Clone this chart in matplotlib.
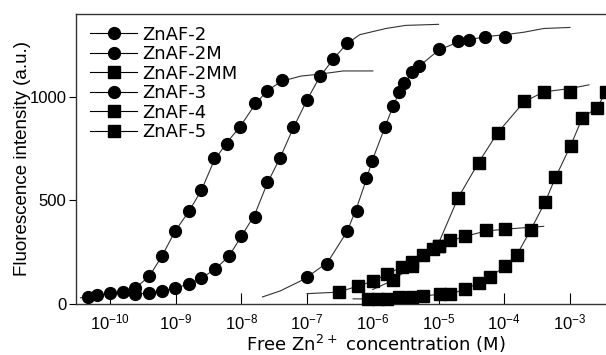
import numpy as np
import matplotlib
matplotlib.use('Agg')
import matplotlib.pyplot as plt

plt.rcParams['font.family'] = ['Liberation Sans', 'DejaVu Sans']
plt.rcParams['mathtext.default'] = 'regular'

# log10 of free Zn2+ concentration (M) and fluorescence (a.u.)
zn2_logc = [-10.34, -10.20, -10.0, -9.80, -9.62, -9.40, -9.21, -9.01, -8.80, -8.61,
            -8.42, -8.22, -8.02, -7.80, -7.61, -7.39]
zn2_f = [34, 43, 53, 58, 77, 135, 231, 351, 447, 548, 707, 774, 856, 971, 1029, 1082]
zn2_fit_logc = [-10.45, -10.34, -10.0, -9.62, -9.40, -9.21, -9.01, -8.80, -8.61, -8.42,
                -8.22, -8.02, -7.80, -7.61, -7.39, -7.10, -6.80, -6.45, -6.0]
zn2_fit_f = [30, 34, 50, 75, 135, 231, 351, 447, 548, 690, 780, 856, 960, 1029, 1075,
             1100, 1110, 1125, 1125]

zn2m_logc = [-9.62, -9.40, -9.21, -9.01, -8.80, -8.61, -8.40, -8.19, -8.00, -7.80,
             -7.61, -7.41, -7.21, -7.00, -6.81, -6.60, -6.40]
zn2m_f = [48, 53, 63, 77, 96, 125, 168, 231, 327, 418, 587, 707, 856, 986, 1101, 1183, 1260]
zn2m_fit_logc = [-9.8, -9.62, -9.40, -9.21, -9.01, -8.80, -8.61, -8.40, -8.19, -8.00,
                 -7.80, -7.61, -7.41, -7.21, -7.00, -6.81, -6.60, -6.40, -6.2, -5.8,
                 -5.5, -5.0]
zn2m_fit_f = [45, 48, 53, 63, 77, 96, 125, 168, 231, 327, 430, 580, 707, 850, 986, 1095,
              1183, 1255, 1300, 1330, 1345, 1350]

zn2mm_logc = [-6.52, -6.22, -5.99, -5.79, -5.56, -5.40, -5.23, -5.08, -4.99, -4.82,
              -4.59, -4.28, -3.99]
zn2mm_f = [58, 87, 111, 144, 178, 202, 236, 264, 279, 308, 327, 356, 361]
zn2mm_fit_logc = [-7.0, -6.6, -6.52, -6.22, -5.99, -5.79, -5.56, -5.40, -5.23, -5.08,
                  -4.99, -4.82, -4.59, -4.28, -3.99, -3.7, -3.4]
zn2mm_fit_f = [50, 56, 58, 87, 111, 144, 178, 202, 236, 264, 279, 305, 327, 352, 361,
               368, 375]

zn3_logc = [-7.0, -6.69, -6.39, -6.24, -6.10, -6.01, -5.82, -5.69, -5.60, -5.52,
            -5.40, -5.29, -5.0, -4.70, -4.53, -4.30, -3.99]
zn3_f = [130, 192, 351, 447, 606, 692, 856, 957, 1024, 1067, 1120, 1149, 1231, 1269,
         1274, 1289, 1289]
zn3_fit_logc = [-7.68, -7.41, -7.1, -7.0, -6.69, -6.39, -6.24, -6.10, -6.01, -5.82,
                -5.69, -5.60, -5.52, -5.40, -5.29, -5.0, -4.70, -4.30, -3.99, -3.7,
                -3.4, -3.0]
zn3_fit_f = [34, 63, 111, 130, 200, 351, 470, 600, 692, 850, 957, 1020, 1067, 1115,
             1149, 1225, 1265, 1290, 1300, 1312, 1330, 1335]

zn4_logc = [-5.69, -5.40, -4.99, -4.70, -4.39, -4.10, -3.70, -3.40, -3.00]
zn4_f = [115, 183, 279, 514, 683, 827, 981, 1024, 1024]
zn4_fit_logc = [-6.0, -5.69, -5.40, -4.99, -4.70, -4.39, -4.10, -3.70, -3.40, -3.00,
                -2.71]
zn4_fit_f = [70, 115, 183, 300, 514, 683, 827, 975, 1024, 1040, 1058]

zn5_logc = [-6.07, -5.92, -5.78, -5.60, -5.40, -5.23, -4.97, -4.82, -4.59, -4.39,
            -4.21, -3.99, -3.81, -3.60, -3.38, -3.22, -2.99, -2.81, -2.59, -2.45]
zn5_f = [24, 24, 24, 34, 34, 38, 48, 48, 72, 101, 130, 183, 236, 356, 490, 611, 764,
         899, 947, 1024]
zn5_fit_logc = [-6.3] + zn5_logc + [-2.3]
zn5_fit_f = [25] + zn5_f + [1080]

series = [
    ('ZnAF-2', 'o', zn2_logc, zn2_f, zn2_fit_logc, zn2_fit_f),
    ('ZnAF-2M', 'o', zn2m_logc, zn2m_f, zn2m_fit_logc, zn2m_fit_f),
    ('ZnAF-2MM', 's', zn2mm_logc, zn2mm_f, zn2mm_fit_logc, zn2mm_fit_f),
    ('ZnAF-3', 'o', zn3_logc, zn3_f, zn3_fit_logc, zn3_fit_f),
    ('ZnAF-4', 's', zn4_logc, zn4_f, zn4_fit_logc, zn4_fit_f),
    ('ZnAF-5', 's', zn5_logc, zn5_f, zn5_fit_logc, zn5_fit_f),
]

x_ticks = [-10, -9, -8, -7, -6, -5, -4, -3]
y_ticks = [0, 500, 1000]

fig = plt.figure(figsize=(6.06, 3.55), dpi=100)
ax = fig.add_axes([0.1254, 0.1437, 0.8746, 0.8169])

for name, mk, lx, ly, fx, fy in series:
    ax.plot(10.0 ** np.array(fx), fy, '-', color='#333333', lw=0.8, zorder=2)
    ax.plot(10.0 ** np.array(lx), ly, mk, color='black', ms=8.5, mec='black',
            zorder=3, clip_on=False, linestyle='none')
    ax.plot([], [], '-', marker=mk, color='black', ms=8.5, lw=0.8, label=name)

ax.set_xscale('log')
ax.set_xlim(10 ** -10.518, 10 ** -2.451)
ax.set_ylim(0, 1400)
ax.set_xticks([10.0 ** t for t in x_ticks])
ax.set_xticklabels(['$10^{%d}$' % t for t in x_ticks])
ax.xaxis.set_minor_locator(matplotlib.ticker.NullLocator())
ax.set_yticks(y_ticks)

ax.tick_params(axis='x', direction='in', length=8, width=0.8, labelsize=12, pad=6)
ax.tick_params(axis='y', direction='out', length=5, width=0.8, labelsize=12, pad=2)
for s in ['left', 'bottom', 'top']:
    ax.spines[s].set_color('#333333')
    ax.spines[s].set_linewidth(1.0)
ax.spines['right'].set_visible(False)

ax.set_ylabel('Fluorescence intensity (a.u.)', fontsize=13.5)
ax.yaxis.set_label_coords(-0.085, 0.5)
ax.set_xlabel('Free Zn$^{2+}$ concentration (M)', fontsize=13,
              family=['DejaVu Sans'])
ax.xaxis.set_label_coords(0.566, -0.098)

ax.legend(loc='upper left', bbox_to_anchor=(0.005, 1.0), frameon=False,
          prop={'family': 'DejaVu Sans', 'size': 13}, handlelength=2.6,
          handletextpad=0.3, labelspacing=0.08, borderaxespad=0.25)

plt.savefig('out.png', dpi=100)
